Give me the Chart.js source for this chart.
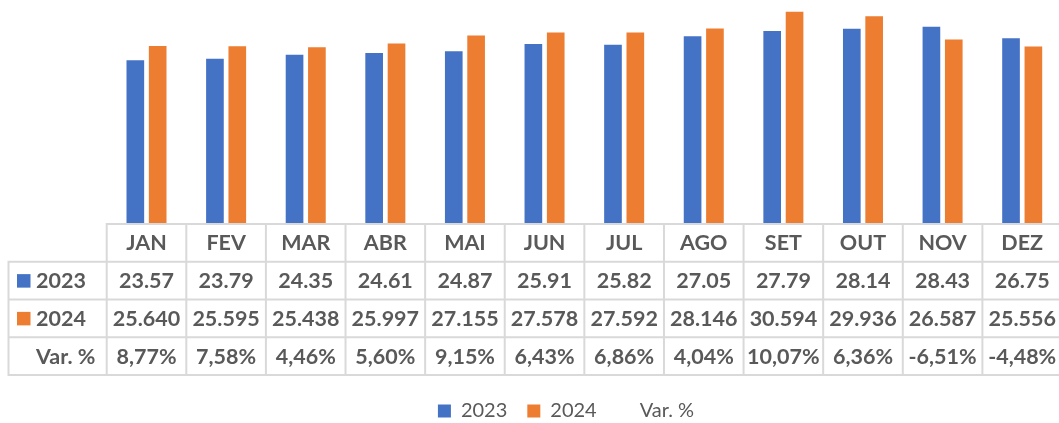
<!DOCTYPE html>
<html>
<head>
<meta charset="utf-8">
<script src="https://cdn.jsdelivr.net/npm/chart.js@4.4.1/dist/chart.umd.min.js"></script>
<style>
html,body{margin:0;padding:0;overflow:hidden;background:#ffffff;}
#wrap{position:absolute;left:0;top:0;width:1062px;height:431px;}
</style>
</head>
<body>
<div id="wrap"><canvas id="c"></canvas></div>
<script>
const months = ['JAN','FEV','MAR','ABR','MAI','JUN','JUL','AGO','SET','OUT','NOV','DEZ'];
const values2023 = [23.57, 23.79, 24.35, 24.61, 24.87, 25.91, 25.82, 27.05, 27.79, 28.14, 28.43, 26.75];
const values2024 = [25.640, 25.595, 25.438, 25.997, 27.155, 27.578, 27.592, 28.146, 30.594, 29.936, 26.587, 25.556];
const varPct = [8.77, 7.58, 4.46, 5.60, 9.15, 6.43, 6.86, 4.04, 10.07, 6.36, -6.51, -4.48];
const seriesNames = ['2023', '2024', 'Var. %'];

const BLUE = '#4472C4';
const ORANGE = '#ED7D31';
const TEXT = '#595959';
const GRID = '#D9D9D9';

const tablePlugin = {
  id: 'dataTable',
  afterDraw(chart) {
    const {ctx, chartArea, scales: {x}} = chart;
    const n = months.length;
    const colW = (chartArea.right - chartArea.left) / n;
    const top = chartArea.bottom + 1;
    const rowH = 37.75;
    const labelLeft = 8.5;
    const left = chartArea.left;
    ctx.save();
    ctx.strokeStyle = GRID;
    ctx.lineWidth = 2;
    ctx.beginPath();
    for (let r = 0; r <= 4; r++) {
      const y = top + rowH * r;
      ctx.moveTo(r === 0 ? left : labelLeft - 1, y);
      ctx.lineTo(chartArea.right, y);
    }
    ctx.moveTo(labelLeft, top + rowH);
    ctx.lineTo(labelLeft, top + 4 * rowH);
    for (let i = 0; i < n; i++) {
      const xx = x.getPixelForValue(i) - colW / 2;
      ctx.moveTo(xx, top - 1);
      ctx.lineTo(xx, top + 4 * rowH + 1);
    }
    const lastX = x.getPixelForValue(n - 1) + colW / 2;
    ctx.moveTo(lastX, top - 1);
    ctx.lineTo(lastX, top + 4 * rowH + 1);
    ctx.stroke();

    const rows = [
      months,
      values2023.map(v => v.toFixed(2)),
      values2024.map(v => v.toFixed(3)),
      varPct.map(v => v.toFixed(2).replace('.', ',') + '%')
    ];
    ctx.font = 'bold 21.5px Lato';
    ctx.fillStyle = TEXT;
    ctx.textAlign = 'center';
    ctx.textBaseline = 'alphabetic';
    rows.forEach((r, ri) => {
      const cy = top + rowH * (ri + 0.5);
      r.forEach((t, i) => {
        ctx.fillText(t, x.getPixelForValue(i), cy + 7.5);
      });
    });

    const keyColors = [BLUE, ORANGE, null];
    ctx.textAlign = 'left';
    seriesNames.forEach((name, k) => {
      const cy = top + rowH * (k + 1.5);
      if (keyColors[k]) {
        ctx.fillStyle = keyColors[k];
        ctx.fillRect(17, cy - 6.5, 13.5, 13.5);
      }
      ctx.fillStyle = TEXT;
      ctx.fillText(name, 36, cy + 7.5);
    });
    ctx.restore();
  }
};

new Chart(document.getElementById('c'), {
  type: 'bar',
  data: {
    labels: months,
    datasets: [
      {
        label: seriesNames[0],
        data: values2023,
        backgroundColor: BLUE,
        borderWidth: 0,
        categoryPercentage: 0.5616,
        barPercentage: 0.79
      },
      {
        label: seriesNames[1],
        data: values2024,
        backgroundColor: ORANGE,
        borderWidth: 0,
        categoryPercentage: 0.5616,
        barPercentage: 0.79
      },
      {
        type: 'line',
        label: seriesNames[2],
        data: varPct,
        yAxisID: 'y2',
        showLine: false,
        pointRadius: 0,
        borderWidth: 0,
        borderColor: 'rgba(0,0,0,0)',
        backgroundColor: 'rgba(0,0,0,0)'
      }
    ]
  },
  options: {
    responsive: true,
    maintainAspectRatio: false,
    animation: false,
    layout: { padding: { left: 70, right: 0, top: 2, bottom: 0 } },
    scales: {
      x: {
        display: true,
        grid: { display: false },
        border: { display: false },
        ticks: { display: false },
        afterFit: (axis) => { axis.height = 158; }
      },
      y: {
        display: true,
        min: 0,
        max: 32,
        grid: { display: false },
        border: { display: false },
        ticks: { display: false },
        afterFit: (axis) => { axis.width = 36.7; }
      },
      y2: {
        display: false,
        min: -20,
        max: 20
      }
    },
    plugins: {
      legend: {
        display: true,
        position: 'bottom',
        align: 'center',
        labels: {
          boxWidth: 13,
          boxHeight: 13,
          padding: 20,
          color: TEXT,
          font: { family: 'Lato', size: 20, weight: 'normal' }
        }
      },
      tooltip: { enabled: false }
    }
  },
  plugins: [tablePlugin]
});
</script>
</body>
</html>
